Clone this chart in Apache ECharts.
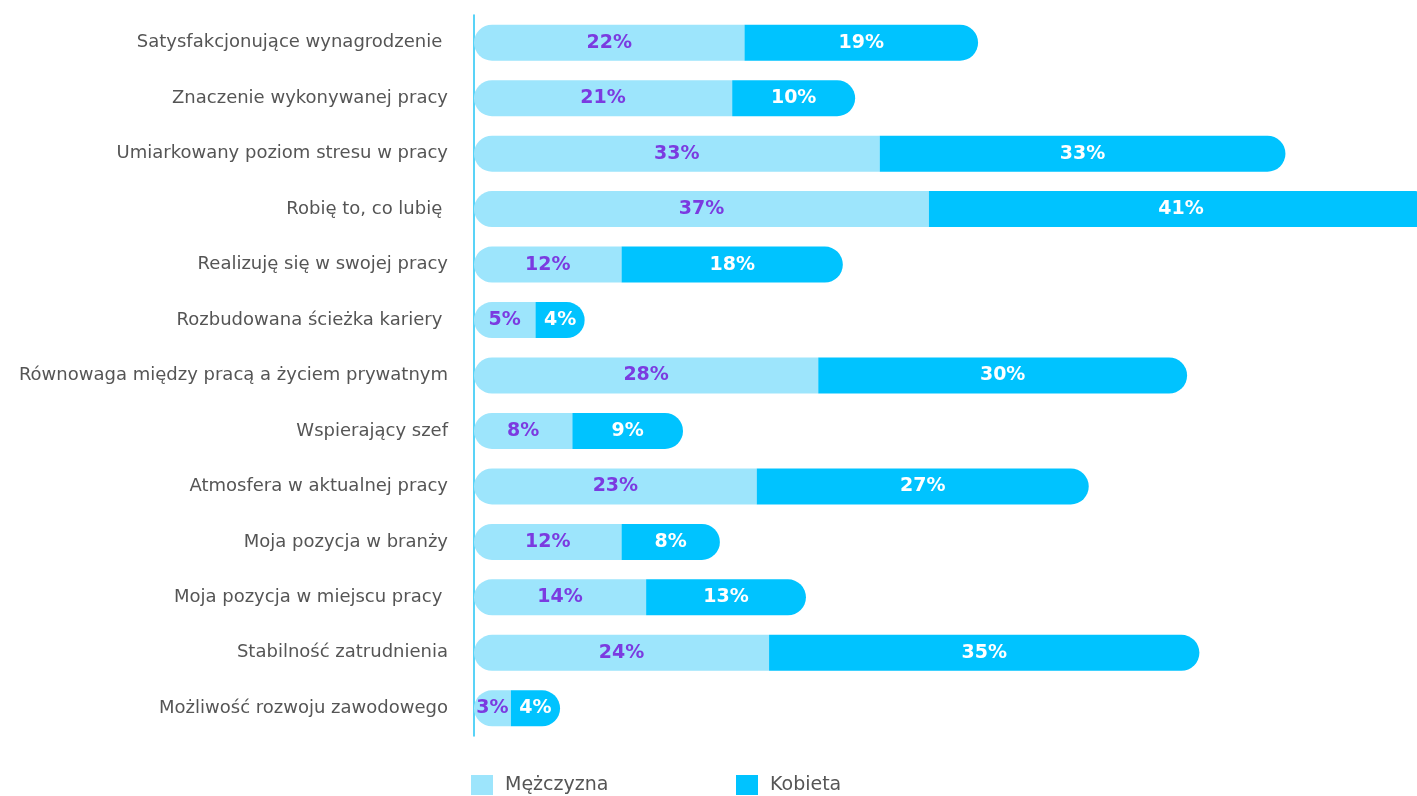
<!DOCTYPE html>
<html>
<head>
<meta charset="utf-8">
<script src="https://cdn.jsdelivr.net/npm/echarts@6/dist/echarts.min.js"></script>
<style>
  html, body { margin: 0; padding: 0; background: #fff; }
  #chart { width: 1417px; height: 796px; }
</style>
</head>
<body>
<div id="chart"></div>
<script>
// Reasons for job satisfaction, split by gender (percent)
const categories = [
  'Satysfakcjonujące wynagrodzenie ',
  'Znaczenie wykonywanej pracy',
  'Umiarkowany poziom stresu w pracy',
  'Robię to, co lubię ',
  'Realizuję się w swojej pracy',
  'Rozbudowana ścieżka kariery ',
  'Równowaga między pracą a życiem prywatnym',
  'Wspierający szef',
  'Atmosfera w aktualnej pracy',
  'Moja pozycja w branży',
  'Moja pozycja w miejscu pracy ',
  'Stabilność zatrudnienia',
  'Możliwość rozwoju zawodowego'
];
const men   = [22, 21, 33, 37, 12, 5, 28, 8, 23, 12, 14, 24, 3];
const women = [19, 10, 33, 41, 18, 4, 30, 9, 27, 8, 13, 35, 4];
const seriesNames = ['Mężczyzna', 'Kobieta'];

const FONT = 'DejaVu Sans';
const chart = echarts.init(document.getElementById('chart'), null, { renderer: 'canvas' });

const legendBase = {
  top: 775,
  padding: 0,
  itemWidth: 22,
  itemHeight: 20,
  icon: 'rect',
  textStyle: { fontFamily: FONT, fontSize: 19, color: '#555555', padding: [0, 0, 0, 7] }
};

chart.setOption({
  animation: false,
  backgroundColor: '#ffffff',
  textStyle: { fontFamily: FONT },
  // the plot area runs to the right edge; the longest bar is allowed past it
  grid: { left: 474, top: 15, right: 0, height: 721, containLabel: false },
  legend: [
    Object.assign({ left: 471, data: [seriesNames[0]] }, legendBase),
    Object.assign({ left: 736, data: [seriesNames[1]] }, legendBase)
  ],
  xAxis: {
    type: 'value',
    min: 0,
    max: 76.7,
    show: false
  },
  yAxis: {
    type: 'category',
    data: categories,
    inverse: true,
    offset: 2,
    axisLine: { show: true, lineStyle: { color: '#22c4f4', width: 1.5 } },
    axisTick: { show: false },
    axisLabel: { margin: 24, fontFamily: FONT, fontSize: 18, color: '#555555' },
    splitLine: { show: false }
  },
  series: [
    {
      name: seriesNames[0],
      type: 'bar',
      stack: 'total',
      clip: false,
      data: men,
      barWidth: 36,
      itemStyle: { color: '#9de5fc', borderRadius: [18, 0, 0, 18] },
      label: {
        show: true,
        position: 'inside',
        formatter: '{c}%',
        fontFamily: FONT,
        fontWeight: 'bold',
        fontSize: 19,
        color: '#7b3be0'
      }
    },
    {
      name: seriesNames[1],
      type: 'bar',
      stack: 'total',
      clip: false,
      data: women,
      barWidth: 36,
      itemStyle: { color: '#00c3ff', borderRadius: [0, 18, 18, 0] },
      label: {
        show: true,
        position: 'inside',
        formatter: '{c}%',
        fontFamily: FONT,
        fontWeight: 'bold',
        fontSize: 19,
        color: '#ffffff'
      }
    }
  ]
});
</script>
</body>
</html>
